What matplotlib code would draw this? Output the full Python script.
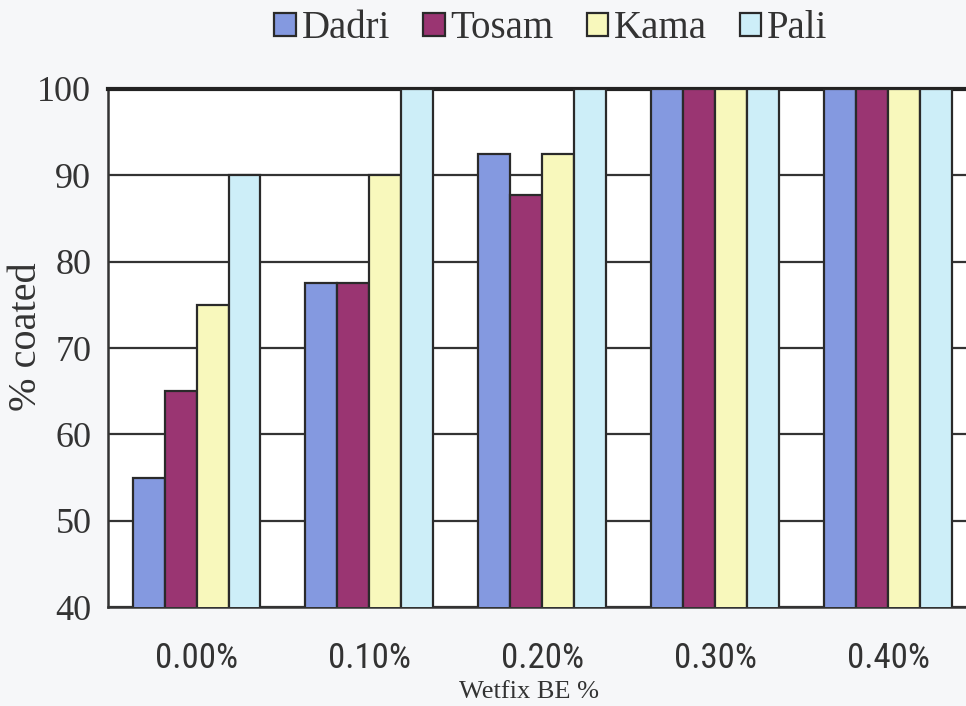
import matplotlib
matplotlib.use("Agg")
import matplotlib.pyplot as plt
from matplotlib import font_manager
import numpy as np

# data
categories = ["0.00%", "0.10%", "0.20%", "0.30%", "0.40%"]
series_names = ["Dadri", "Tosam", "Kama", "Pali"]
dadri = [55, 77.5, 92.5, 100, 100]
tosam = [65, 77.5, 87.7, 100, 100]
kama = [75, 90, 92.5, 100, 100]
pali = [90, 100, 100, 100, 100]
values = [dadri, tosam, kama, pali]
colors = ["#8499E0", "#9A3572", "#F8F8BC", "#CDEEF8"]

bg = "#F6F7F9"
serif = ["Liberation Serif", "DejaVu Serif"]

# narrow sans for the category labels if there is one
installed = {f.name for f in font_manager.fontManager.ttflist}
narrow = [n for n in ["Liberation Sans Narrow", "Roboto Condensed", "Open Sans Condensed"] if n in installed]
if narrow:
    xfont, xsize = narrow[0], 25
else:
    xfont, xsize = "Liberation Sans", 21

fig = plt.figure(figsize=(9.66, 7.06), dpi=100, facecolor=bg)
ax = fig.add_axes([0.1118, 0.140, 0.906, 0.734])
ax.set_facecolor("white")

x = np.arange(len(categories))
w = 0.185
for i, (name, vals, c) in enumerate(zip(series_names, values, colors)):
    ax.bar(x + (i - 1.5) * w, vals, width=w, bottom=0, color=c,
           edgecolor="#2a2a2a", linewidth=1.6, label=name, zorder=3)

ax.set_ylim(40, 100)
ax.set_xlim(-0.512, len(categories) - 0.45)
ax.set_yticks(range(40, 101, 10))
ax.yaxis.grid(True, color="#333333", linewidth=1.6, zorder=0)
ax.set_axisbelow(True)
ax.tick_params(axis="y", length=0, pad=12, labelsize=26, labelcolor="#333333")
ax.tick_params(axis="x", length=0, pad=25, labelsize=xsize, labelcolor="#333333")
for lab in ax.get_yticklabels():
    lab.set_family(serif)
ax.set_xticks(x)
ax.set_xticklabels(categories, family=[xfont, "DejaVu Sans"])

for s in ["left", "bottom"]:
    ax.spines[s].set_color("#333333")
    ax.spines[s].set_linewidth(1.8)
ax.spines["top"].set_color("#222222")
ax.spines["top"].set_linewidth(3)
ax.spines["right"].set_visible(False)

fig.text(27 / 966, 1 - 337 / 706, "% coated", family=serif, fontsize=29, color="#333333",
         rotation=90, ha="center", va="center")
fig.text(529 / 966, 3 / 706, "Wetfix BE %", family=serif, fontsize=19, color="#333333",
         ha="center", va="bottom")

fig.legend(loc="center", bbox_to_anchor=(551 / 966, 1 - 29 / 706), ncol=4, frameon=False,
           prop={"family": serif, "size": 28}, handlelength=0.55, handleheight=0.55,
           handletextpad=0.15, columnspacing=0.85, borderpad=0, labelcolor="#333333")

fig.savefig("out.png", dpi=100, facecolor=bg)
